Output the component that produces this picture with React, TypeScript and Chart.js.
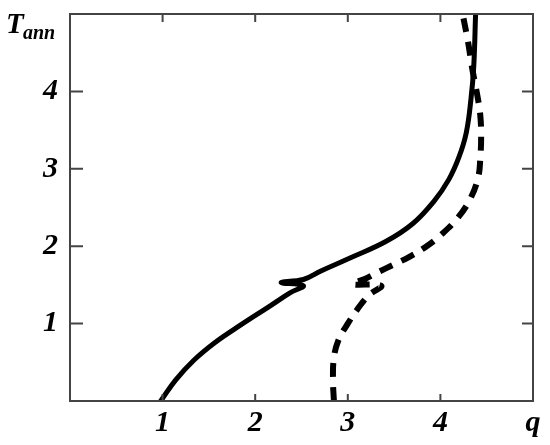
import React, { useEffect, useRef } from "react";
import { Chart, registerables } from "chart.js";

Chart.register(...registerables);

// Tick values and labels
const xTickValues = [1, 2, 3, 4, 5];
const xTickLabels = ["1", "2", "3", "4", "q"];
const yTickValues = [1, 2, 3, 4];
const yTickLabels = ["1", "2", "3", "4"];
const tickMarksX = [1, 2, 3, 4];
const tickMarksY = [1, 2, 3, 4];

// Solid curve (q, T_ann)
const solidQ = [0.98, 1.14, 1.34, 1.57, 1.84, 2.15, 2.38, 2.52, 2.28, 2.52, 2.71, 3.03, 3.41, 3.7, 3.93, 4.09, 4.2, 4.28, 4.33, 4.36, 4.38];
const solidT = [0.0, 0.27, 0.53, 0.76, 0.98, 1.22, 1.4, 1.49, 1.53, 1.57, 1.68, 1.85, 2.06, 2.29, 2.58, 2.86, 3.15, 3.47, 3.9, 4.32, 5.0];

// Dashed curve (q, T_ann)
const dashQ = [2.85, 2.84, 2.85, 2.9, 2.99, 3.1, 3.23, 3.36, 3.05, 3.19, 3.32, 3.49, 3.66, 3.84, 4.0, 4.19, 4.33, 4.41, 4.43, 4.44, 4.43, 4.4, 4.34, 4.3, 4.24];
const dashT = [0.0, 0.27, 0.56, 0.79, 0.98, 1.18, 1.37, 1.49, 1.51, 1.58, 1.66, 1.76, 1.86, 1.99, 2.14, 2.37, 2.63, 2.9, 3.12, 3.42, 3.7, 3.94, 4.32, 4.63, 5.0];

const FONT_FAMILY = "'Liberation Serif', 'Times New Roman', serif";

const frameTicksPlugin = {
  id: "frameTicks",
  afterDraw(chart: any) {
    const { ctx, chartArea: ca, scales } = chart;
    const xs = scales.x;
    const ys = scales.y;
    ctx.save();
    ctx.strokeStyle = "#444";
    ctx.lineWidth = 2;
    ctx.strokeRect(ca.left, ca.top, ca.right - ca.left, ca.bottom - ca.top);
    ctx.beginPath();
    tickMarksX.forEach((v) => {
      const px = xs.getPixelForValue(v);
      ctx.moveTo(px, ca.bottom);
      ctx.lineTo(px, ca.bottom - 7);
      ctx.moveTo(px, ca.top);
      ctx.lineTo(px, ca.top + 8);
    });
    tickMarksY.forEach((v) => {
      const py = ys.getPixelForValue(v);
      ctx.moveTo(ca.left, py);
      ctx.lineTo(ca.left + 13, py);
      ctx.moveTo(ca.right, py);
      ctx.lineTo(ca.right - 11, py);
    });
    ctx.stroke();

    // Axis title T_ann
    ctx.fillStyle = "#000";
    ctx.textAlign = "left";
    ctx.textBaseline = "alphabetic";
    const topY = ys.getPixelForValue(5);
    ctx.font = `italic bold 29px ${FONT_FAMILY}`;
    ctx.fillText("T", ca.left - 64, topY + 19);
    ctx.font = `italic bold 20px ${FONT_FAMILY}`;
    ctx.fillText("ann", ca.left - 47, topY + 25);
    ctx.restore();
  },
};

export default function App() {
  const canvasRef = useRef<HTMLCanvasElement | null>(null);

  useEffect(() => {
    const canvas = canvasRef.current;
    if (!canvas) return;
    const tickFont = { family: FONT_FAMILY, size: 30, weight: "bold" as const, style: "italic" as const };
    const chart = new Chart(canvas, {
      type: "scatter",
      data: {
        datasets: [
          {
            label: "solid",
            data: solidQ.map((q, i) => ({ x: q, y: solidT[i] })),
            showLine: true,
            borderColor: "#000",
            borderWidth: 5,
            pointRadius: 0,
            tension: 0.4,
            borderCapStyle: "round",
            borderJoinStyle: "round",
          },
          {
            label: "dashed",
            data: dashQ.map((q, i) => ({ x: q, y: dashT[i] })),
            showLine: true,
            borderColor: "#000",
            borderWidth: 6,
            borderDash: [14, 10],
            pointRadius: 0,
            tension: 0.4,
            borderCapStyle: "butt",
          },
        ],
      },
      options: {
        responsive: false,
        animation: false,
        devicePixelRatio: 1,
        layout: { padding: { top: 14, right: 17, left: 0, bottom: 0 } },
        plugins: { legend: { display: false }, tooltip: { enabled: false } },
        scales: {
          x: {
            type: "linear",
            min: 0,
            max: 5,
            grid: { display: false, drawTicks: false },
            border: { display: false },
            afterFit: (s: any) => {
              s.height = 44;
              s.paddingLeft = 0;
              s.paddingRight = 0;
            },
            ticks: {
              stepSize: 1,
              padding: 4,
              color: "#000",
              font: tickFont,
              maxRotation: 0,
              autoSkip: false,
              callback: (v: any) => {
                const i = xTickValues.indexOf(Number(v));
                return i >= 0 ? xTickLabels[i] : "";
              },
            },
          },
          y: {
            type: "linear",
            min: 0,
            max: 5,
            grid: { display: false, drawTicks: false },
            border: { display: false },
            afterFit: (s: any) => {
              s.width = 70;
              s.paddingTop = 0;
              s.paddingBottom = 0;
            },
            ticks: {
              stepSize: 1,
              padding: 12,
              color: "#000",
              font: tickFont,
              autoSkip: false,
              callback: (v: any) => {
                const i = yTickValues.indexOf(Number(v));
                return i >= 0 ? yTickLabels[i] : "";
              },
            },
          },
        },
      },
      plugins: [frameTicksPlugin],
    });
    return () => chart.destroy();
  }, []);

  return (
    <div style={{ position: "absolute", left: 0, top: 0, width: 550, height: 445, background: "#fff" }}>
      <canvas ref={canvasRef} width={550} height={445} />
    </div>
  );
}
